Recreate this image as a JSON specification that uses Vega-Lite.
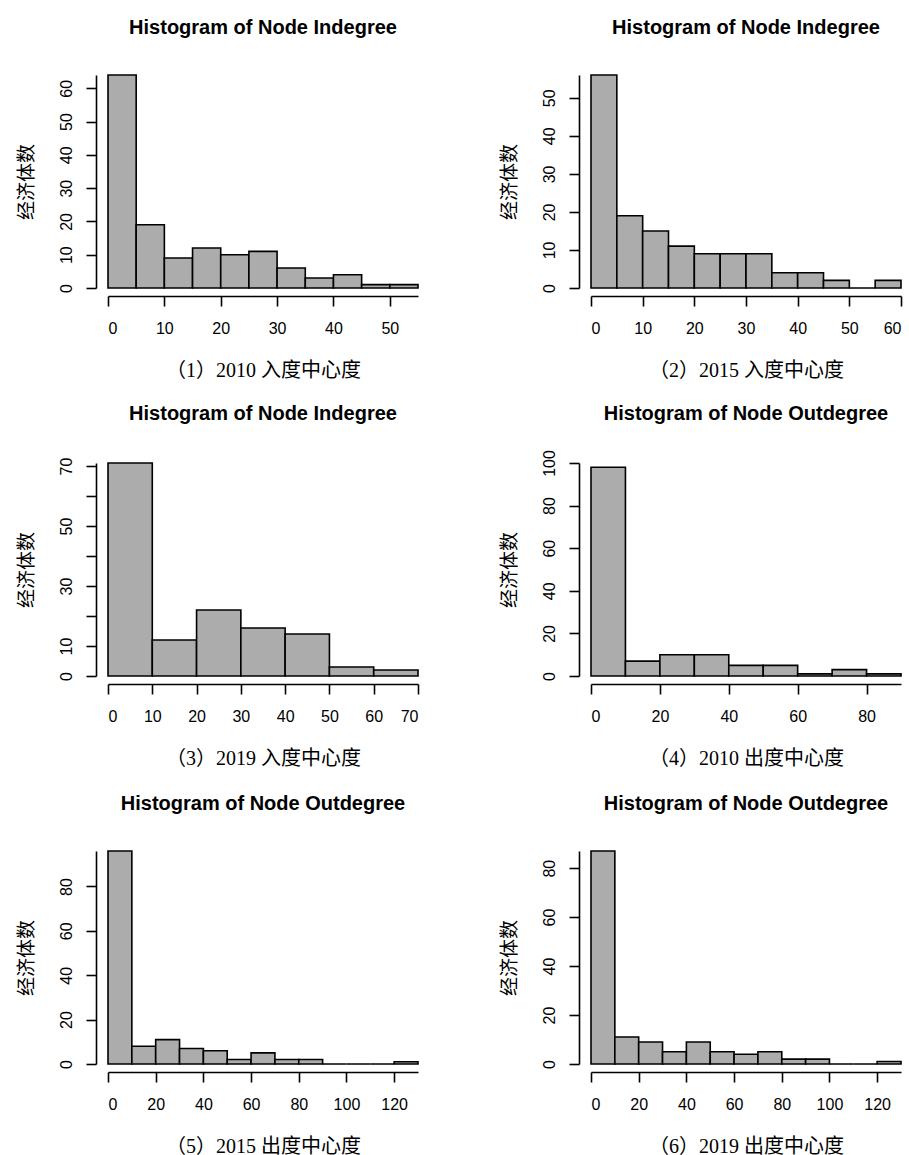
{
  "$schema": "https://vega.github.io/schema/vega-lite/v6.json",
  "background": "white",
  "padding": {"left": 16, "top": 18, "right": 5, "bottom": 5},
  "columns": 2,
  "bounds": "flush",
  "spacing": {"row": 175, "column": 173},
  "config": {
    "view": {"stroke": null},
    "bar": {"fill": "#acacac", "stroke": "#000000", "strokeWidth": 1.6},
    "axis": {
      "grid": false,
      "domainColor": "#000000",
      "domainWidth": 1.6,
      "tickColor": "#000000",
      "tickWidth": 1.6,
      "tickSize": 10,
      "labelFont": "Liberation Sans",
      "labelFontSize": 16,
      "labelColor": "#000000",
      "titleColor": "#000000",
      "titleFontWeight": "normal"
    },
    "axisX": {
      "offset": 8,
      "labelPadding": 14,
      "titleFont": "Liberation Serif, Noto Sans CJK SC",
      "titleFontSize": 20,
      "titlePadding": 24
    },
    "axisY": {
      "offset": 12,
      "labelAngle": 270,
      "labelAlign": "center",
      "labelBaseline": "bottom",
      "labelPadding": 12,
      "titleFont": "Noto Sans CJK SC",
      "titleFontSize": 19,
      "titlePadding": 22
    },
    "title": {
      "font": "Liberation Sans",
      "fontSize": 20,
      "fontWeight": "bold",
      "color": "#000000",
      "anchor": "middle",
      "offset": 36
    }
  },
  "concat": [
    {
      "width": 310, "height": 213,
      "title": "Histogram of Node Indegree",
      "data": {"values": [
        {"start": 0, "end": 5, "count": 64},
        {"start": 5, "end": 10, "count": 19},
        {"start": 10, "end": 15, "count": 9},
        {"start": 15, "end": 20, "count": 12},
        {"start": 20, "end": 25, "count": 10},
        {"start": 25, "end": 30, "count": 11},
        {"start": 30, "end": 35, "count": 6},
        {"start": 35, "end": 40, "count": 3},
        {"start": 40, "end": 45, "count": 4},
        {"start": 45, "end": 50, "count": 1},
        {"start": 50, "end": 55, "count": 1}
      ]},
      "mark": "bar",
      "encoding": {
        "x": {"field": "start", "type": "quantitative", "scale": {"domain": [0, 55], "nice": false}, "axis": {"values": [0, 10, 20, 30, 40, 50], "title": "（1）2010 入度中心度"}},
        "x2": {"field": "end"},
        "y": {"field": "count", "type": "quantitative", "scale": {"domain": [0, 64], "nice": false}, "axis": {"values": [0, 10, 20, 30, 40, 50, 60], "title": "经济体数"}},
        "y2": {"datum": 0}
      }
    },
    {
      "width": 310, "height": 213,
      "title": "Histogram of Node Indegree",
      "data": {"values": [
        {"start": 0, "end": 5, "count": 56},
        {"start": 5, "end": 10, "count": 19},
        {"start": 10, "end": 15, "count": 15},
        {"start": 15, "end": 20, "count": 11},
        {"start": 20, "end": 25, "count": 9},
        {"start": 25, "end": 30, "count": 9},
        {"start": 30, "end": 35, "count": 9},
        {"start": 35, "end": 40, "count": 4},
        {"start": 40, "end": 45, "count": 4},
        {"start": 45, "end": 50, "count": 2},
        {"start": 50, "end": 55, "count": 0},
        {"start": 55, "end": 60, "count": 2}
      ]},
      "mark": "bar",
      "encoding": {
        "x": {"field": "start", "type": "quantitative", "scale": {"domain": [0, 60], "nice": false}, "axis": {"values": [0, 10, 20, 30, 40, 50, 60], "title": "（2）2015 入度中心度"}},
        "x2": {"field": "end"},
        "y": {"field": "count", "type": "quantitative", "scale": {"domain": [0, 56], "nice": false}, "axis": {"values": [0, 10, 20, 30, 40, 50], "title": "经济体数"}},
        "y2": {"datum": 0}
      }
    },
    {
      "width": 310, "height": 213,
      "title": {"text": "Histogram of Node Indegree", "offset": 33},
      "data": {"values": [
        {"start": 0, "end": 10, "count": 71},
        {"start": 10, "end": 20, "count": 12},
        {"start": 20, "end": 30, "count": 22},
        {"start": 30, "end": 40, "count": 16},
        {"start": 40, "end": 50, "count": 14},
        {"start": 50, "end": 60, "count": 3},
        {"start": 60, "end": 70, "count": 2}
      ]},
      "mark": "bar",
      "encoding": {
        "x": {"field": "start", "type": "quantitative", "scale": {"domain": [0, 70], "nice": false}, "axis": {"values": [0, 10, 20, 30, 40, 50, 60, 70], "title": "（3）2019 入度中心度"}},
        "x2": {"field": "end"},
        "y": {"field": "count", "type": "quantitative", "scale": {"domain": [0, 71], "nice": false}, "axis": {"values": [0, 10, 20, 30, 40, 50, 60, 70], "labelExpr": "datum.value == 20 || datum.value == 40 || datum.value == 60 ? '' : datum.label", "title": "经济体数"}},
        "y2": {"datum": 0}
      }
    },
    {
      "width": 310, "height": 213,
      "title": {"text": "Histogram of Node Outdegree", "offset": 26},
      "data": {"values": [
        {"start": 0, "end": 10, "count": 98},
        {"start": 10, "end": 20, "count": 7},
        {"start": 20, "end": 30, "count": 10},
        {"start": 30, "end": 40, "count": 10},
        {"start": 40, "end": 50, "count": 5},
        {"start": 50, "end": 60, "count": 5},
        {"start": 60, "end": 70, "count": 1},
        {"start": 70, "end": 80, "count": 3},
        {"start": 80, "end": 90, "count": 1}
      ]},
      "mark": "bar",
      "encoding": {
        "x": {"field": "start", "type": "quantitative", "scale": {"domain": [0, 90], "nice": false}, "axis": {"values": [0, 20, 40, 60, 80], "title": "（4）2010 出度中心度"}},
        "x2": {"field": "end"},
        "y": {"field": "count", "type": "quantitative", "scale": {"domain": [0, 100], "nice": false}, "axis": {"values": [0, 20, 40, 60, 80, 100], "title": "经济体数"}},
        "y2": {"datum": 0}
      }
    },
    {
      "width": 310, "height": 213,
      "title": "Histogram of Node Outdegree",
      "data": {"values": [
        {"start": 0, "end": 10, "count": 96},
        {"start": 10, "end": 20, "count": 8},
        {"start": 20, "end": 30, "count": 11},
        {"start": 30, "end": 40, "count": 7},
        {"start": 40, "end": 50, "count": 6},
        {"start": 50, "end": 60, "count": 2},
        {"start": 60, "end": 70, "count": 5},
        {"start": 70, "end": 80, "count": 2},
        {"start": 80, "end": 90, "count": 2},
        {"start": 90, "end": 100, "count": 0},
        {"start": 100, "end": 110, "count": 0},
        {"start": 110, "end": 120, "count": 0},
        {"start": 120, "end": 130, "count": 1}
      ]},
      "mark": "bar",
      "encoding": {
        "x": {"field": "start", "type": "quantitative", "scale": {"domain": [0, 130], "nice": false}, "axis": {"values": [0, 20, 40, 60, 80, 100, 120], "title": "（5）2015 出度中心度"}},
        "x2": {"field": "end"},
        "y": {"field": "count", "type": "quantitative", "scale": {"domain": [0, 96], "nice": false}, "axis": {"values": [0, 20, 40, 60, 80], "title": "经济体数"}},
        "y2": {"datum": 0}
      }
    },
    {
      "width": 310, "height": 213,
      "title": "Histogram of Node Outdegree",
      "data": {"values": [
        {"start": 0, "end": 10, "count": 87},
        {"start": 10, "end": 20, "count": 11},
        {"start": 20, "end": 30, "count": 9},
        {"start": 30, "end": 40, "count": 5},
        {"start": 40, "end": 50, "count": 9},
        {"start": 50, "end": 60, "count": 5},
        {"start": 60, "end": 70, "count": 4},
        {"start": 70, "end": 80, "count": 5},
        {"start": 80, "end": 90, "count": 2},
        {"start": 90, "end": 100, "count": 2},
        {"start": 100, "end": 110, "count": 0},
        {"start": 110, "end": 120, "count": 0},
        {"start": 120, "end": 130, "count": 1}
      ]},
      "mark": "bar",
      "encoding": {
        "x": {"field": "start", "type": "quantitative", "scale": {"domain": [0, 130], "nice": false}, "axis": {"values": [0, 20, 40, 60, 80, 100, 120], "title": "（6）2019 出度中心度"}},
        "x2": {"field": "end"},
        "y": {"field": "count", "type": "quantitative", "scale": {"domain": [0, 87], "nice": false}, "axis": {"values": [0, 20, 40, 60, 80], "title": "经济体数"}},
        "y2": {"datum": 0}
      }
    }
  ]
}
